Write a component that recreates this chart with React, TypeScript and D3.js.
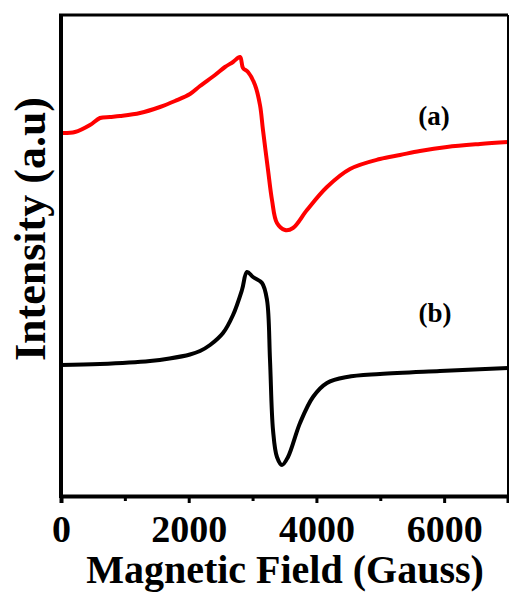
import { useEffect, useRef } from "react"
import * as d3 from "d3"

// field (Gauss) and intensity (a.u)
const fieldA = [0, 219, 454, 611, 767, 924, 1237, 1550, 1785, 2020, 2177, 2412, 2568, 2694, 2803, 2850, 2928, 3038, 3116, 3163, 3242, 3304, 3382, 3508, 3633, 3852, 4165, 4526, 4995, 5308, 5621, 6044, 6561, 7000]
const intensityA = [363, 364, 371, 378, 379, 380, 383, 389, 395, 402, 410, 421, 429, 434, 439, 428, 424, 411, 391, 366, 326, 296, 273, 266, 268, 286, 309, 327, 337, 341, 345, 349, 352, 354]

const fieldB = [0, 611, 1394, 1700, 2020, 2177, 2334, 2537, 2694, 2834, 2913, 3007, 3148, 3226, 3273, 3320, 3382, 3461, 3555, 3743, 3946, 4165, 4478, 4995, 5934, 7000]
const intensityB = [131, 132, 135, 137.5, 141.5, 145, 151, 163, 181, 206, 224, 219, 213, 196, 136, 66, 39, 31, 39, 73, 99, 113, 119, 122, 125, 128]

const majorTicks = [0, 2000, 4000, 6000]
const minorTicks = [1000, 3000, 5000]
const seriesLabels = ["(a)", "(b)"]

const W = 509
const H = 592
const font = "'Liberation Serif', 'Times New Roman', serif"

export default function App() {
  const ref = useRef<SVGSVGElement>(null)

  useEffect(() => {
    const svg = d3.select(ref.current)
    svg.selectAll("*").remove()

    const x = d3.scaleLinear().domain([0, 7000]).range([61, 508])
    const y = d3.scaleLinear().domain([0, 482]).range([496, 14])

    const line = d3.line<[number, number]>()
      .x(d => x(d[0]))
      .y(d => y(d[1]))
      .curve(d3.curveCatmullRom.alpha(0.5))

    const plot = svg.append("g")

    const series = [
      { xs: fieldA, ys: intensityA, color: "#ff0000" },
      { xs: fieldB, ys: intensityB, color: "#000000" },
    ]
    series.forEach(s => {
      const pts = s.xs.map((v, i) => [v, s.ys[i]] as [number, number])
      plot.append("path")
        .attr("d", line(pts))
        .attr("fill", "none")
        .attr("stroke", s.color)
        .attr("stroke-width", 4)
        .attr("stroke-linejoin", "round")
    })

    // frame
    svg.append("line").attr("x1", 59).attr("x2", 508).attr("y1", 15).attr("y2", 15)
      .attr("stroke", "#000").attr("stroke-width", 3)
    svg.append("line").attr("x1", 508).attr("x2", 508).attr("y1", 15).attr("y2", 496)
      .attr("stroke", "#000").attr("stroke-width", 2)
    svg.append("line").attr("x1", 61).attr("x2", 61).attr("y1", 14).attr("y2", 498)
      .attr("stroke", "#000").attr("stroke-width", 4)

    // x axis
    const xAxis = svg.append("g")
      .attr("transform", "translate(0,496)")
      .call(d3.axisBottom(x).tickValues(majorTicks).tickSize(7).tickPadding(12)
        .tickFormat(d3.format("d")))
    xAxis.select(".domain").attr("stroke-width", 4)
    xAxis.selectAll(".tick line").attr("stroke-width", 3)
    xAxis.selectAll("text")
      .attr("font-family", font)
      .attr("font-weight", "bold")
      .attr("font-size", 38)
      .attr("fill", "#000")

    svg.append("g")
      .attr("transform", "translate(0,496)")
      .call(d3.axisBottom(x).tickValues(minorTicks).tickSize(5).tickFormat(() => ""))
      .call(g => g.select(".domain").remove())
      .selectAll(".tick line").attr("stroke-width", 3)

    svg.append("text")
      .attr("x", 285).attr("y", 583)
      .attr("text-anchor", "middle")
      .attr("font-family", font).attr("font-weight", "bold").attr("font-size", 40)
      .text("Magnetic Field (Gauss)")

    svg.append("text")
      .attr("transform", "translate(45,229) rotate(-90)")
      .attr("text-anchor", "middle")
      .attr("font-family", font).attr("font-weight", "bold").attr("font-size", 44)
      .text("Intensity (a.u)")

    // series labels
    svg.append("text").attr("x", 434).attr("y", 125).attr("text-anchor", "middle")
      .attr("font-family", font).attr("font-weight", "bold").attr("font-size", 27)
      .text(seriesLabels[0])
    svg.append("text").attr("x", 435).attr("y", 322).attr("text-anchor", "middle")
      .attr("font-family", font).attr("font-weight", "bold").attr("font-size", 27)
      .text(seriesLabels[1])
  }, [])

  return (
    <svg ref={ref} width={W} height={H}
      style={{ position: "absolute", left: 0, top: 0, background: "#fff" }} />
  )
}
